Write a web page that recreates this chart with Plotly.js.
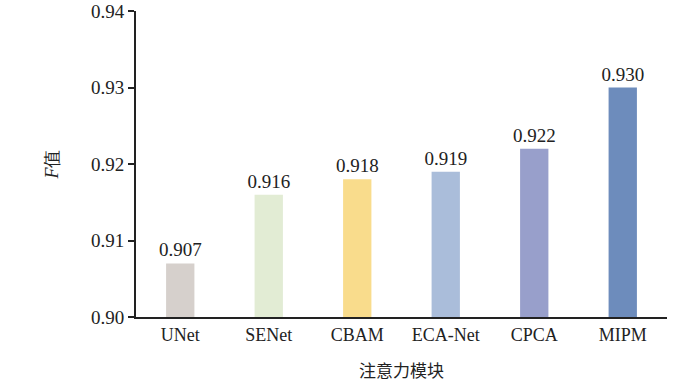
<!DOCTYPE html>
<html>
<head>
<meta charset="utf-8">
<script src="https://cdn.plot.ly/plotly-3.0.1.min.js"></script>
<style>html,body{margin:0;padding:0;background:#fff;}#chart{width:700px;height:392px;}</style>
</head>
<body>
<div id="chart"></div>
<script>
var categories = ["UNet", "SENet", "CBAM", "ECA-Net", "CPCA", "MIPM"];
var fValues = [0.907, 0.916, 0.918, 0.919, 0.922, 0.930];
var valueLabels = ["0.907", "0.916", "0.918", "0.919", "0.922", "0.930"];
var barColors = ["#d6d0cc", "#e2ecd4", "#f9dc8c", "#aabdda", "#989fcb", "#6d8cbc"];
var yTicks = [0.90, 0.91, 0.92, 0.93, 0.94];
var yTickLabels = ["0.90", "0.91", "0.92", "0.93", "0.94"];
var baseValue = 0.90;

var serif = "Liberation Serif, Times New Roman, serif";
var trace = {
  type: "bar",
  x: categories,
  y: fValues.map(function(v){ return v - baseValue; }),
  base: baseValue,
  text: valueLabels,
  textposition: "outside",
  constraintext: "none",
  cliponaxis: false,
  textfont: {family: serif, size: 19, color: "#222"},
  marker: {color: barColors},
  width: 0.32,
  hoverinfo: "none"
};

var layout = {
  width: 700, height: 392,
  margin: {l: 136, r: 33, t: 11, b: 75},
  paper_bgcolor: "#fff", plot_bgcolor: "#fff",
  showlegend: false,
  font: {family: serif, size: 19, color: "#222"},
  xaxis: {
    type: "category",
    showline: true, linecolor: "#222", linewidth: 2,
    ticks: "", showgrid: false, zeroline: false,
    tickfont: {family: serif, size: 18, color: "#222"},
    title: {text: "注意力模块", font: {family: "Noto Sans CJK SC, sans-serif", size: 17, color: "#222"}, standoff: 22}
  },
  yaxis: {
    range: [0.90, 0.94001],
    tickvals: yTicks, ticktext: yTickLabels,
    ticklabeloverflow: "allow",
    showline: true, linecolor: "#222", linewidth: 2,
    ticks: "outside", ticklen: 6, tickwidth: 2, tickcolor: "#222",
    showgrid: false, zeroline: false,
    tickfont: {family: serif, size: 19, color: "#222"},
    title: {text: "<i>F</i>值", font: {family: serif, size: 18, color: "#222"}, standoff: 28}
  }
};
Plotly.newPlot("chart", [trace], layout, {displayModeBar: false, staticPlot: true});
</script>
</body>
</html>
